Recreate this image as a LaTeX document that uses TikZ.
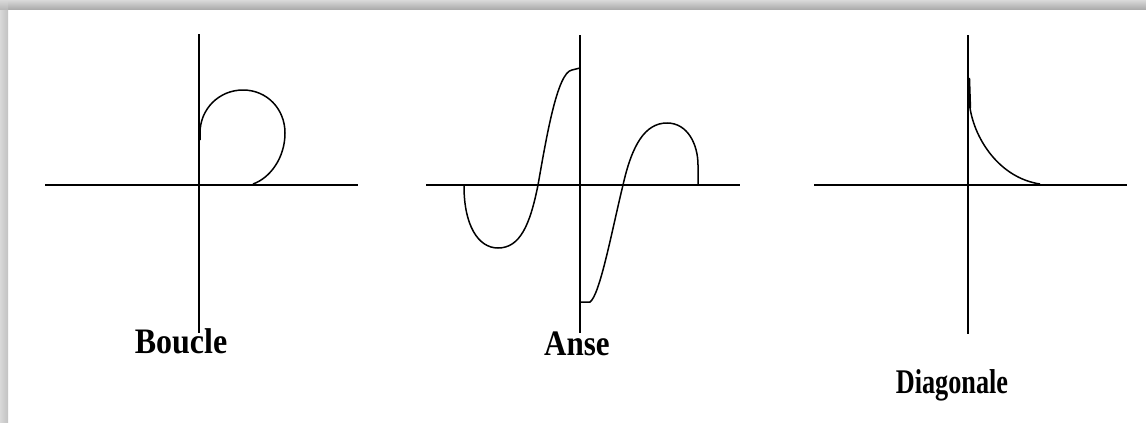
\documentclass[tikz,border=0pt]{standalone}
\usepackage{fontspec}
\setmainfont{Liberation Serif}
\begin{document}
\begin{tikzpicture}[x=1pt,y=-1pt,
  axis/.style={line width=2.5pt,black},
  curve/.style={line width=1.5pt,black},
  lbl/.style={inner sep=0pt,anchor=base,font=\fontsize{32}{36}\selectfont\bfseries}]
\useasboundingbox (0,0) rectangle (1146,423);
\fill[white] (0,0) rectangle (1146,423);
% frame shadow
\shade[top color=gray!30,bottom color=gray!65] (0,0) rectangle (1146,9);
\shade[left color=gray!30,right color=gray!48] (0,9) rectangle (8,423);
\shade[top color=gray!30,bottom color=gray!55] (0,0) rectangle (8,9);

% ---------- Boucle ----------
\draw[axis] (45,185) -- (358,185);
\draw[axis] (199,34) -- (199,333);
\draw[curve] (200,140) -- (200,133) .. controls (200,109) and (219,90) .. (243,90)
  .. controls (267,90) and (285,109) .. (285,133)
  .. controls (285,158) and (270,178) .. (253,184);
\node[lbl] (boucle) at (181,353) {\scalebox{1.0}[1.12]{Boucle}};

% ---------- Anse ----------
\draw[axis] (426,185) -- (740,185);
\draw[axis] (580,35) -- (580,333);
\draw[curve] (464,186) .. controls (464,225) and (478,248) .. (498,248)
  .. controls (520,248) and (530,225) .. (538,185)
  .. controls (546,140) and (557,72) .. (572,70) -- (580,68);
\draw[curve] (580,302) -- (590,302) .. controls (600,295) and (612,230) .. (623,185)
  .. controls (632,145) and (645,123) .. (667,123)
  .. controls (688,123) and (698,145) .. (698,165) -- (698,185);
\node[lbl] (anse) at (577,355) {\scalebox{0.97}[1.12]{Anse}};

% ---------- Diagonale ----------
\draw[axis] (814,185) -- (1127,185);
\draw[axis] (968,35) -- (968,334);
\draw[line width=2.4pt] (969,78) -- (970,108);
\draw[curve] (970,108) .. controls (975,140) and (1000,178) .. (1040,184);
\node[lbl] (diag) at (952,393) {\scalebox{0.82}[1.08]{Diagonale}};
\end{tikzpicture}
\end{document}
